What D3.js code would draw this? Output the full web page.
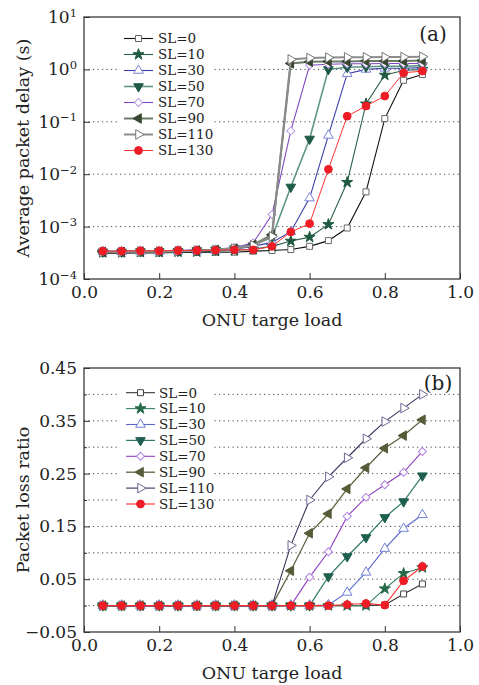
<!DOCTYPE html>
<html><head><meta charset="utf-8">
<script src="https://cdn.jsdelivr.net/npm/d3@7"></script>
<style>
body{margin:0;background:#fff}
svg{display:block}
text{font-family:"DejaVu Serif",serif;fill:#222}
</style>
</head><body><svg id="c" width="479" height="685"></svg>
<script>
// ---------- data ----------
const loads = [0.05,0.1,0.15,0.2,0.25,0.3,0.35,0.4,0.45,0.5,0.55,0.6,0.65,0.7,0.75,0.8,0.85,0.9];
const seriesNames = ["SL=0","SL=10","SL=30","SL=50","SL=70","SL=90","SL=110","SL=130"];

// (a) Average packet delay (s)
const delaySL0   = [3.1e-4,3.1e-4,3.15e-4,3.15e-4,3.2e-4,3.2e-4,3.25e-4,3.25e-4,3.4e-4,3.5e-4,3.65e-4,4.2e-4,5.4e-4,9.4e-4,4.6e-3,0.115,0.62,0.8];
const delaySL10  = [3.2e-4,3.2e-4,3.25e-4,3.25e-4,3.3e-4,3.3e-4,3.4e-4,3.5e-4,3.7e-4,4.2e-4,5.3e-4,6.3e-4,1.1e-3,7e-3,0.22,0.78,0.95,1.0];
const delaySL30  = [3.3e-4,3.3e-4,3.35e-4,3.35e-4,3.4e-4,3.45e-4,3.5e-4,3.7e-4,4.2e-4,5e-4,8e-4,3.5e-3,0.055,0.83,1.0,1.05,1.05,1.08];
const delaySL50  = [3.3e-4,3.3e-4,3.35e-4,3.35e-4,3.4e-4,3.5e-4,3.6e-4,3.8e-4,4.4e-4,6.2e-4,5.7e-3,0.047,1.0,1.1,1.12,1.15,1.15,1.18];
const delaySL70  = [3.4e-4,3.4e-4,3.45e-4,3.45e-4,3.5e-4,3.6e-4,3.7e-4,4e-4,4.9e-4,1.7e-3,0.067,1.2,1.25,1.28,1.28,1.3,1.3,1.3];
const delaySL90  = [3.3e-4,3.3e-4,3.35e-4,3.35e-4,3.4e-4,3.5e-4,3.6e-4,3.8e-4,4.5e-4,7e-4,1.3,1.4,1.42,1.42,1.45,1.45,1.45,1.48];
const delaySL110 = [3.3e-4,3.3e-4,3.35e-4,3.35e-4,3.4e-4,3.5e-4,3.6e-4,3.8e-4,4.4e-4,6.5e-4,1.55,1.65,1.68,1.7,1.7,1.72,1.72,1.75];
const delaySL130 = [3.4e-4,3.4e-4,3.45e-4,3.45e-4,3.5e-4,3.5e-4,3.55e-4,3.6e-4,3.6e-4,4.2e-4,7.9e-4,1.14e-3,0.0124,0.128,0.2,0.31,0.86,0.93];

// (b) Packet loss ratio
const lossSL0   = [0,0,0,0,0,0,0,0,0,0,0,0,0,0,0,0.001,0.022,0.041];
const lossSL10  = [0,0,0,0,0,0,0,0,0,0,0,0,0,0,0,0.032,0.061,0.072];
const lossSL30  = [0,0,0,0,0,0,0,0,0,0,0,0,0.001,0.025,0.063,0.108,0.146,0.172];
const lossSL50  = [0,0,0,0,0,0,0,0,0,0,0,0,0.055,0.093,0.129,0.167,0.197,0.246];
const lossSL70  = [0,0,0,0,0,0,0,0,0,0,0,0.054,0.102,0.169,0.205,0.229,0.2525,0.292];
const lossSL90  = [0,0,0,0,0,0,0,0,0,0,0.066,0.137,0.174,0.221,0.261,0.298,0.322,0.352];
const lossSL110 = [0,0,0,0,0,0,0,0,0,0,0.114,0.2,0.244,0.28,0.316,0.3485,0.374,0.40];
const lossSL130 = [0,0,0,0,0,0,0,0,0,0,0,0,0,0.002,0.004,0.001,0.047,0.074];

const xTicks = [0,0.2,0.4,0.6,0.8,1.0];
const delayTicks = [1e-4,1e-3,1e-2,1e-1,1e0,1e1];
const delayGrid = [1e-3,1e-2,1e-1,1e0];
const lossTicks = [-0.05,0.05,0.15,0.25,0.35,0.45];
const lossMinor = [0,0.1,0.2,0.3,0.4];
const lossGrid = [0,0.05,0.1,0.15,0.2,0.25,0.3,0.35,0.4];

const delayData = [delaySL0,delaySL10,delaySL30,delaySL50,delaySL70,delaySL90,delaySL110,delaySL130];
const lossData  = [lossSL0,lossSL10,lossSL30,lossSL50,lossSL70,lossSL90,lossSL110,lossSL130];

// ---------- styles ----------
const markers = ["square","star","triUp","triDown","diamond","triLeft","triRight","circle"];
const styleTop = [
  {line:"#111",   lw:1.1, fill:"#fff",    stroke:"#666"},
  {line:"#2a5f48",lw:1.1, fill:"#1f5a40", stroke:"#1f5a40"},
  {line:"#3b3fa8",lw:1.1, fill:"#fff",    stroke:"#7a86d6"},
  {line:"#5f9585",lw:1.6, fill:"#1f5a48", stroke:"#1f5a48"},
  {line:"#8048c0",lw:1.1, fill:"#fff",    stroke:"#b898e6"},
  {line:"#6d7a68",lw:2.0, fill:"#38462f", stroke:"#38462f"},
  {line:"#8c8c8c",lw:2.0, fill:"#fff",    stroke:"#777"},
  {line:"#ff3535",lw:1.0, fill:"#ee1c24", stroke:"#ee1c24"}
];
const styleBot = [
  {line:"#333",   lw:1.1, fill:"#fff",    stroke:"#444"},
  {line:"#3a8263",lw:1.1, fill:"#256a48", stroke:"#256a48"},
  {line:"#5a68c8",lw:1.1, fill:"#fff",    stroke:"#6f7fd6"},
  {line:"#2f7a68",lw:1.2, fill:"#1f6050", stroke:"#1f6050"},
  {line:"#9040c0",lw:1.1, fill:"#fff",    stroke:"#b080e0"},
  {line:"#5d6442",lw:1.3, fill:"#555c38", stroke:"#555c38"},
  {line:"#35355a",lw:1.1, fill:"#fff",    stroke:"#6a6a95"},
  {line:"#ff2a2a",lw:1.1, fill:"#ee1c24", stroke:"#ee1c24"}
];

function markerShape(kind){
  const map = {
    square:[d3.symbolSquare,36,0], star:[d3.symbolStar,38,0],
    triUp:[d3.symbolTriangle,40,0], triDown:[d3.symbolTriangle,40,180],
    diamond:[d3.symbolSquare,32,45], triLeft:[d3.symbolTriangle,40,-90],
    triRight:[d3.symbolTriangle,40,90], circle:[d3.symbolCircle,48,0]
  };
  const m = map[kind];
  return {d:d3.symbol(m[0],m[1])(), rot:m[2]};
}

const svg = d3.select("#c");
const x = d3.scaleLinear().domain([0,1]).range([84,460]);
const TICKFS = "17px", TITLEFS = "17.5px";

function drawPanel(opt){
  const {y, top, bottom, data, styles, gridVals, legend, tag, tagPos, ylabel} = opt;
  const g = svg.append("g");
  g.selectAll("line.grid").data(gridVals).enter().append("line")
    .attr("x1",x.range()[0]).attr("x2",x.range()[1])
    .attr("y1",d=>y(d)).attr("y2",d=>y(d))
    .attr("stroke","#444").attr("stroke-width",1).attr("stroke-dasharray","1.2,3.3");
  const line = d3.line().x((d,i)=>x(loads[i])).y(d=>y(d));
  data.forEach((arr,si)=>{
    const st = styles[si];
    g.append("path").attr("d",line(arr)).attr("fill","none")
      .attr("stroke",st.line).attr("stroke-width",st.lw);
    const ms = markerShape(markers[si]);
    g.selectAll(null).data(arr).enter().append("path")
      .attr("d",ms.d)
      .attr("transform",(d,i)=>`translate(${x(loads[i])},${y(d)}) rotate(${ms.rot})`)
      .attr("fill",st.fill).attr("stroke",st.stroke).attr("stroke-width",1);
  });
  const lg = g.append("g");
  lg.append("rect").attr("x",legend.bx).attr("y",legend.by).attr("width",legend.bw).attr("height",legend.bh).attr("fill","#fff");
  seriesNames.forEach((nm,si)=>{
    const yy = legend.y0 + si*legend.dy;
    const st = styles[si];
    lg.append("line").attr("x1",legend.x0).attr("x2",legend.x1).attr("y1",yy).attr("y2",yy)
      .attr("stroke",st.line).attr("stroke-width",st.lw);
    const ms = markerShape(markers[si]);
    lg.append("path").attr("d",ms.d)
      .attr("transform",`translate(${(legend.x0+legend.x1)/2},${yy}) rotate(${ms.rot})`)
      .attr("fill",st.fill).attr("stroke",st.stroke).attr("stroke-width",1);
    lg.append("text").attr("x",legend.tx).attr("y",yy).attr("dy","0.36em")
      .style("font-size","13.5px").text(nm);
  });
  g.append("rect").attr("x",84).attr("y",top).attr("width",376).attr("height",bottom-top)
    .attr("fill","none").attr("stroke","#3a3a3a").attr("stroke-width",1.3);
  const xa = g.append("g").attr("transform",`translate(0,${bottom})`)
    .call(d3.axisBottom(x).tickValues(xTicks).tickSizeInner(-6).tickSizeOuter(0).tickPadding(7).tickFormat(d3.format(".1f")));
  xa.select(".domain").remove();
  xa.attr("color","#333");
  xa.selectAll("text").style("font-size",TICKFS);
  g.append("text").attr("x",272).attr("y",bottom+47).attr("text-anchor","middle")
    .style("font-size",TITLEFS).text("ONU targe load");
  g.append("text").attr("transform",`translate(29,${(top+bottom)/2}) rotate(-90)`)
    .attr("text-anchor","middle").style("font-size",TITLEFS).text(ylabel);
  g.append("text").attr("x",tagPos[0]).attr("y",tagPos[1]).attr("text-anchor","middle")
    .attr("dy","0.35em").style("font-size","20px").text(tag);
  return g;
}

// ---- panel (a) ----
const yTop = d3.scaleLog().domain([1e-4,10]).range([279,17]);
const ga = drawPanel({y:yTop, top:17, bottom:279, data:delayData, styles:styleTop, gridVals:delayGrid,
  legend:{bx:117,by:27,bw:96,bh:133,y0:38.5,dy:16,x0:124,x1:153,tx:158},
  tag:"(a)", tagPos:[433,34], ylabel:"Average packet delay (s)"});
const ya = ga.append("g").attr("transform","translate(84,0)")
  .call(d3.axisLeft(yTop).tickValues(delayTicks).tickSizeInner(-6).tickSizeOuter(0).tickPadding(7).tickFormat(()=>""));
ya.select(".domain").remove();
ya.attr("color","#333");
ya.selectAll("text").style("font-size",TICKFS).each(function(d){
  const t = d3.select(this);
  const e = Math.round(Math.log10(d));
  t.text("10");
  t.append("tspan").attr("dy","-0.55em").style("font-size","11.5px")
    .text(e<0 ? "\u2212"+Math.abs(e) : String(e));
});

// ---- panel (b) ----
const yBot = d3.scaleLinear().domain([-0.05,0.45]).range([632,368]);
const gb = drawPanel({y:yBot, top:368, bottom:632, data:lossData, styles:styleBot, gridVals:lossGrid,
  legend:{bx:120,by:382,bw:93,bh:132,y0:392.7,dy:15.9,x0:126,x1:155,tx:159},
  tag:"(b)", tagPos:[438,383], ylabel:"Packet loss ratio"});
const yb = gb.append("g").attr("transform","translate(84,0)")
  .call(d3.axisLeft(yBot).tickValues(lossTicks).tickSizeInner(-6).tickSizeOuter(0).tickPadding(7).tickFormat(d3.format(".2f")));
yb.select(".domain").remove();
yb.attr("color","#333");
yb.selectAll("text").style("font-size",TICKFS);
const ybm = gb.append("g").attr("transform","translate(84,0)")
  .call(d3.axisLeft(yBot).tickValues(lossMinor).tickSizeInner(-3).tickSizeOuter(0).tickFormat(()=>""));
ybm.select(".domain").remove();
ybm.attr("color","#333");
</script>
</body></html>
